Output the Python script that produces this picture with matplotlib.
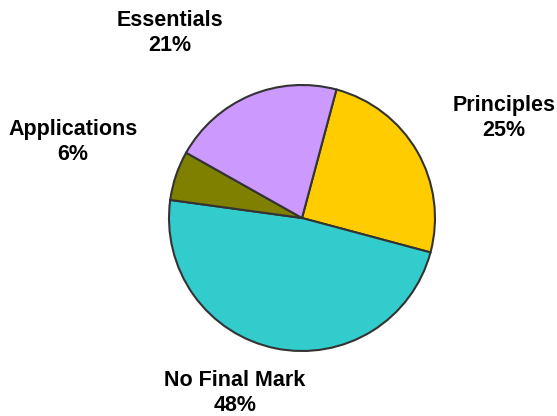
import matplotlib
matplotlib.use("Agg")
import matplotlib.pyplot as plt

categories = ["Principles", "No Final Mark", "Applications", "Essentials"]
shares = [25, 48, 6, 21]
colors = ["#FFCC00", "#33CCCC", "#808000", "#CC99FF"]

W, H = 557, 416
fig = plt.figure(figsize=(W / 100, H / 100), dpi=100)
ax = fig.add_axes([0, 0, 1, 1])

ax.pie(shares, colors=colors, startangle=75, counterclock=False,
       center=(302, H - 218), radius=133,
       wedgeprops=dict(edgecolor="#333333", linewidth=1.5))

# pixel-based coordinate frame, set after pie() which resets limits
ax.set_xlim(0, W)
ax.set_ylim(0, H)
ax.set_aspect("equal")
ax.axis("off")

# label anchor points (pixels from top-left)
label_pos = {
    "Principles": (504, 118),
    "No Final Mark": (235, 393),
    "Applications": (73, 142),
    "Essentials": (170, 33),
}
for cat, val in zip(categories, shares):
    x, y = label_pos[cat]
    ax.text(x, H - y, f"{cat}\n{val}%", ha="center", va="center",
            fontsize=15.5, fontweight="bold", family="Liberation Sans",
            linespacing=1.3, color="black")

fig.savefig("out.png", dpi=100)
